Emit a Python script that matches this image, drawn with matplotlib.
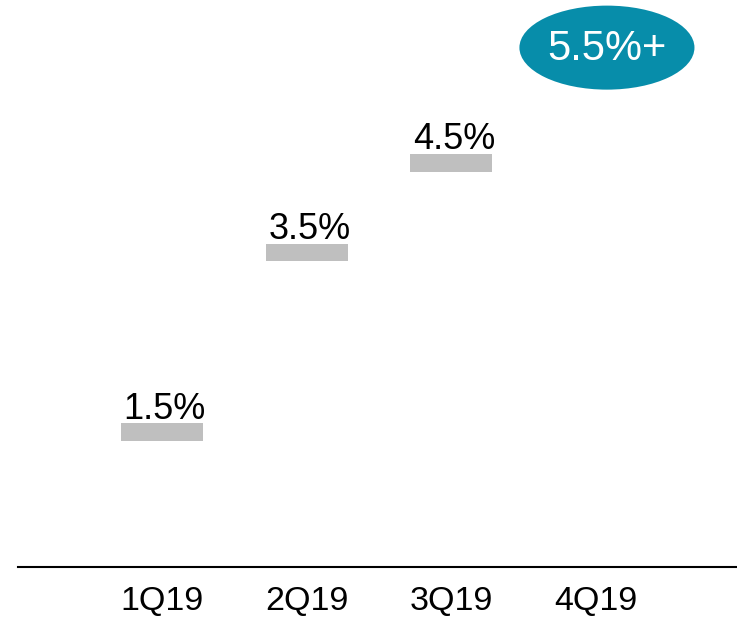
import matplotlib
matplotlib.use("Agg")
import matplotlib.pyplot as plt
from matplotlib.patches import Ellipse

# data
quarters = ["1Q19", "2Q19", "3Q19", "4Q19"]
values = [1.5, 3.5, 4.5, 5.5]
value_labels = ["1.5%", "3.5%", "4.5%", "5.5%+"]
highlight = [False, False, False, True]

BAR_GRAY = "#BFBFBF"
TEAL = "#078DAA"

plt.rcParams["font.family"] = ["Liberation Sans", "DejaVu Sans"]

fig = plt.figure(figsize=(7.37, 6.2), dpi=100)
ax = fig.add_axes([0.0244, 0.0855, 0.9756, 0.9145])

x = list(range(len(quarters)))
bar_w = 0.567
bar_h = 0.2

for xi, v, lab, hl in zip(x, values, value_labels, highlight):
    if hl:
        ell = Ellipse((xi + 0.076, v + 0.28), width=1.21, height=0.935,
                      facecolor=TEAL, edgecolor="none", zorder=3)
        ax.add_patch(ell)
        ax.text(xi + 0.076, v + 0.26, lab, ha="center", va="center",
                color="white", fontsize=30, zorder=4)
    else:
        ax.bar(xi, bar_h, width=bar_w, bottom=v - bar_h / 2, color=BAR_GRAY, zorder=2)
        ax.annotate(lab, (xi + 0.02, v + bar_h / 2), xytext=(0, 3),
                    textcoords="offset points", ha="center", va="baseline",
                    fontsize=26, color="black")

ax.set_xlim(-0.995, 3.975)
ax.set_ylim(0, 6.31)
ax.set_xticks(x)
ax.set_xticklabels(quarters, fontsize=24.5)
ax.tick_params(axis="x", length=0, pad=14)
ax.set_yticks([])
for side in ["top", "right", "left"]:
    ax.spines[side].set_visible(False)
ax.spines["bottom"].set_linewidth(1.5)
ax.patch.set_alpha(0)

fig.savefig("out.png", dpi=100)
